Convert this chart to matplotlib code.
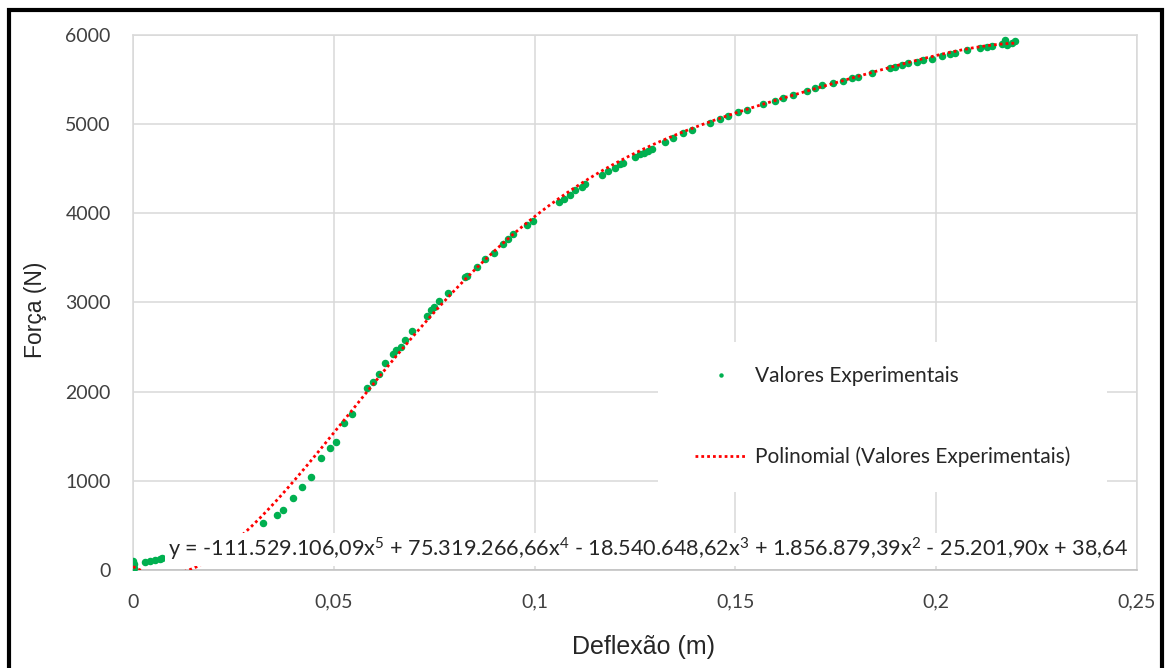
import numpy as np
import matplotlib.pyplot as plt
from matplotlib.patches import Rectangle

# valores (deflexão em m, força em N)
deflexao = [0, 0, 0, 0, 0, 0.0002, 0.0003, 0.0030, 0.0042, 0.0055, 0.0067, 0.0072,
            0.0324, 0.0359, 0.0374, 0.0398, 0.0421, 0.0443, 0.0468, 0.0490, 0.0505, 0.0525,
            0.0545, 0.0583, 0.0598, 0.0613, 0.0627, 0.0647, 0.0655, 0.0667, 0.0677, 0.0695,
            0.0732, 0.0742, 0.0750, 0.0762, 0.0784, 0.0827, 0.0832, 0.0857, 0.0876, 0.0899,
            0.0921, 0.0934, 0.0946, 0.0981, 0.0996, 0.1061, 0.1073, 0.1088, 0.1101, 0.1118,
            0.1125, 0.1168, 0.1183, 0.1200, 0.1213, 0.1220, 0.1250, 0.1262, 0.1272, 0.1282,
            0.1292, 0.1325, 0.1345, 0.1370, 0.1392, 0.1437, 0.1462, 0.1482, 0.1506, 0.1529,
            0.1569, 0.1599, 0.1619, 0.1643, 0.1678, 0.1698, 0.1716, 0.1743, 0.1768, 0.1790,
            0.1805, 0.1840, 0.1885, 0.1897, 0.1915, 0.1930, 0.1952, 0.1967, 0.1990, 0.2014,
            0.2034, 0.2047, 0.2077, 0.2109, 0.2126, 0.2139, 0.2164, 0.2171, 0.2176, 0.2189,
            0.2196]
forca = [10, 35, 55, 80, 100, 25, 65, 90, 100, 112, 123, 134,
         526, 616, 672, 806, 929, 1041, 1254, 1366, 1433, 1646,
         1746, 2037, 2104, 2194, 2317, 2418, 2463, 2496, 2575, 2675,
         2843, 2910, 2944, 3011, 3101, 3291, 3302, 3403, 3493, 3560,
         3660, 3716, 3772, 3873, 3918, 4131, 4164, 4209, 4265, 4298,
         4332, 4433, 4478, 4511, 4556, 4567, 4634, 4668, 4679, 4701,
         4724, 4802, 4847, 4903, 4937, 5015, 5060, 5093, 5138, 5160,
         5228, 5261, 5295, 5328, 5373, 5407, 5440, 5463, 5485, 5519,
         5530, 5575, 5631, 5642, 5664, 5687, 5698, 5720, 5731, 5765,
         5787, 5798, 5832, 5854, 5866, 5877, 5899, 5944, 5888, 5910,
         5933]

# coeficientes da linha de tendência (grau 5), como na equação do gráfico
coef = [-111529106.09, 75319266.66, -18540648.62, 1856879.39, -25201.90, 38.64]

x_ticks = [0, 0.05, 0.1, 0.15, 0.2, 0.25]
x_labels = ['0', '0,05', '0,1', '0,15', '0,2', '0,25']
y_ticks = [0, 1000, 2000, 3000, 4000, 5000, 6000]

equacao = ('y = -111.529.106,09x$^{5}$ + 75.319.266,66x$^{4}$ - 18.540.648,62x$^{3}$'
           ' + 1.856.879,39x$^{2}$ - 25.201,90x + 38,64')

plt.rcParams['font.family'] = ['Lato', 'DejaVu Sans']
plt.rcParams['mathtext.fontset'] = 'custom'
plt.rcParams['mathtext.rm'] = 'Lato'
plt.rcParams['mathtext.it'] = 'Lato'

fig = plt.figure(figsize=(11.65, 6.68), dpi=100)
ax = fig.add_axes([0.1142, 0.1467, 0.8618, 0.8010])

# pontos experimentais
ax.plot(deflexao, forca, linestyle='none', marker='o', markersize=4.4,
        color='#00B050', label='Valores Experimentais', zorder=3)

# linha de tendência polinomial
xt = np.linspace(0, max(deflexao), 600)
ax.plot(xt, np.polyval(coef, xt), color='#FF0000', linewidth=2.0,
        linestyle=(0, (1, 1.1)), label='Polinomial (Valores Experimentais)', zorder=4)

ax.set_xlim(0, 0.25)
ax.set_ylim(0, 6000)
ax.set_xticks(x_ticks)
ax.set_xticklabels(x_labels)
ax.set_yticks(y_ticks)
ax.tick_params(length=0, labelsize=14, labelcolor='#404040')
ax.tick_params(axis='x', pad=17)
ax.tick_params(axis='y', pad=16)
ax.grid(True, color='#d9d9d9', linewidth=1.1)
ax.set_axisbelow(True)
for s in ['top', 'right', 'left']:
    ax.spines[s].set_color('#d9d9d9')
    ax.spines[s].set_linewidth(1.1)
ax.spines['bottom'].set_color('#bfbfbf')
ax.spines['bottom'].set_linewidth(1.1)

ax.set_xlabel('Deflexão (m)', fontsize=18, family='Liberation Sans', color='#262626')
ax.set_ylabel('Força (N)', fontsize=16.5, family='Liberation Sans', color='#262626')
ax.xaxis.set_label_coords(0.508, -0.122)
ax.yaxis.set_label_coords(-0.086, 0.486)

# caixa branca da legenda
ax.add_patch(Rectangle((0.523, 0.146), 0.447, 0.280, transform=ax.transAxes,
                       facecolor='white', edgecolor='none', zorder=2))
leg = ax.legend(loc='center', bbox_to_anchor=(0.7465, 0.286), frameon=False,
                fontsize=15, handlelength=2.5, handletextpad=0.4,
                labelspacing=2.9, markerscale=0.5)
for t in leg.get_texts():
    t.set_color('#262626')

ax.text(0.035, 0.039, equacao, transform=ax.transAxes, fontsize=15.6,
        color='#262626', ha='left', va='center', zorder=5,
        bbox=dict(facecolor='white', edgecolor='none', pad=2))

# moldura preta em volta da figura
fig.add_artist(Rectangle((9 / 1165, -0.05), 1153 / 1165, 1.035, transform=fig.transFigure,
                         fill=False, edgecolor='black', linewidth=3, clip_on=False))

fig.savefig('out.png', dpi=100)
